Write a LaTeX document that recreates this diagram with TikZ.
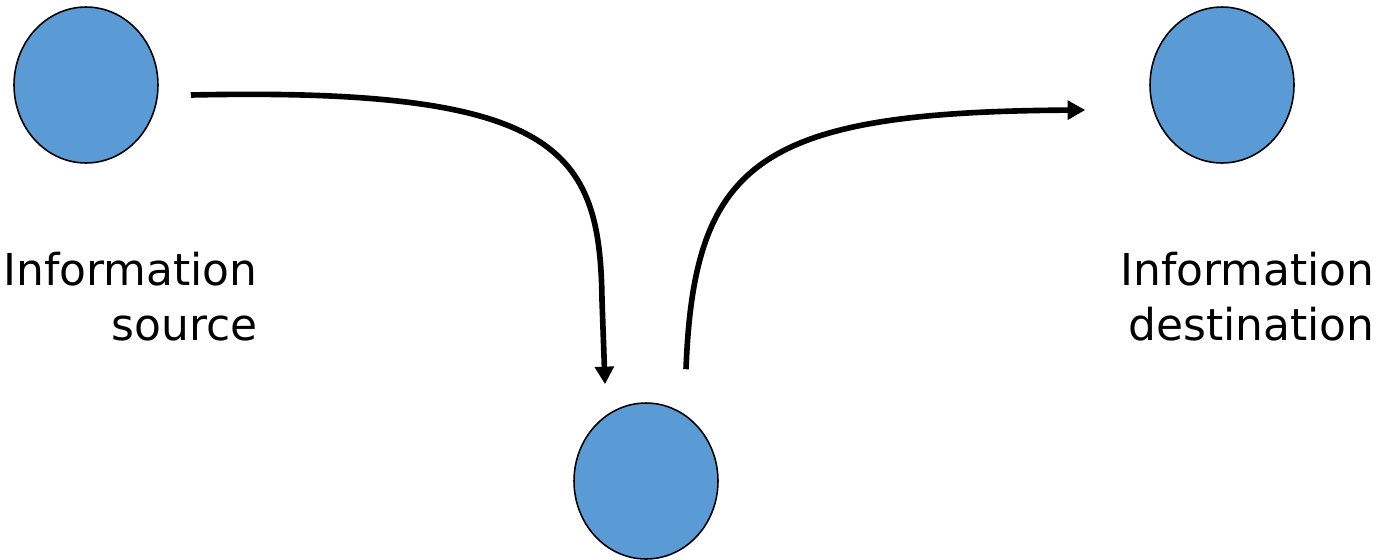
\documentclass[tikz,border=0pt]{standalone}
\usepackage{fontspec}
\setmainfont{DejaVu Sans}
\usetikzlibrary{shapes.geometric,arrows.meta,calc}

\tikzset{
  party/.style={ellipse, draw=black, line width=0.9pt, fill={rgb,255:red,91;green,155;blue,213},
    minimum width=2.88cm, minimum height=3.12cm, inner sep=0pt},
  caption/.style={align=right, font=\fontsize{25}{31.2}\selectfont, inner sep=0pt},
  flow/.style={line width=3.2pt, -{Triangle[length=10pt,width=10.5pt]}}
}

\begin{document}
\begin{tikzpicture}[x=0.02cm, y=-0.02cm]
  \useasboundingbox (0,0) rectangle (1383,559);
  \fill[white] (0,0) rectangle (1383,559);

  % --- the three parties ---
  \node[party] (src) at (86,85) {};
  \node[party] (dst) at (1222,85) {};
  \node[party] (mid) at (646,481) {};

  % --- captions ---
  \node[caption, anchor=base east] (srclabel) at (258,340) {Information\\source};
  \node[caption, anchor=base east] (dstlabel) at (1375,340) {Information\\destination};

  % --- message path ---
  \coordinate (out1) at ($(src.east)+(32,10)$);
  \coordinate (in1)  at ($(mid.north)+(-41,-18)$);
  \coordinate (out2) at ($(mid.north)+(40,-33)$);
  \coordinate (in2)  at ($(dst.west)+(-64,25)$);
  \draw[flow] (out1) .. controls (560,87) and (600,150) .. (602,300) -- (in1);
  \draw[flow] (out2) .. controls (694,160) and (760,112) .. (in2);
\end{tikzpicture}
\end{document}
